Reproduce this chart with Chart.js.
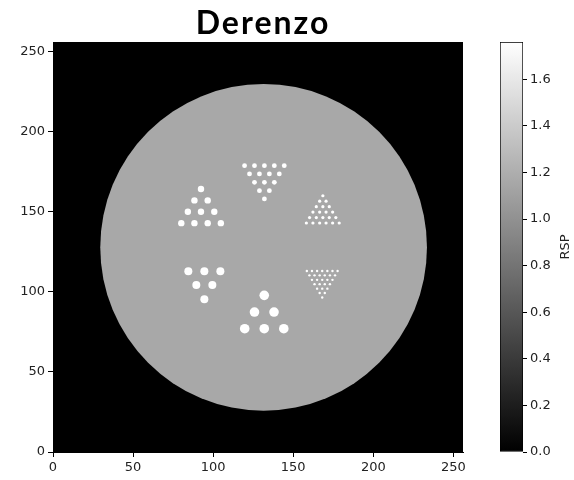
<!DOCTYPE html>
<html>
<head>
<meta charset="utf-8">
<script src="https://cdn.jsdelivr.net/npm/chart.js@4.4.1/dist/chart.umd.min.js"></script>
<style>
  body { margin: 0; background: #fff; }
  #wrap { position: relative; width: 574px; height: 480px; }
  canvas { position: absolute; top: 0; }
</style>
</head>
<body>
<div id="wrap">
  <canvas id="main" width="520" height="480" style="left:0"></canvas>
  <canvas id="cbar" width="94" height="480" style="left:480px"></canvas>
</div>
<script>
// image extent and ticks
const titleText = 'Derenzo';
const xTicks = [0, 50, 100, 150, 200, 250];
const yTicks = [0, 50, 100, 150, 200, 250];
const cbTicks = [0.0, 0.2, 0.4, 0.6, 0.8, 1.0, 1.2, 1.4, 1.6];
const vmax = 1.76;

// phantom body (RSP values)
const diskCenter = [131.5, 127.8];
const diskRadius = 102;
const diskValue = 1.16;
const rodValue = 1.76;

// rod groups: diameter + centres (pixel units of the 256x256 image)
const rodDiam = [4.0, 3.0, 2.0, 1.5, 5.0, 6.0];
const rodX = [
  [92.4, 88.3, 96.6, 84.2, 92.4, 100.7, 80.1, 88.3, 96.6, 104.8],
  [119.6, 125.8, 132.0, 138.2, 144.4, 122.7, 128.9, 135.1, 141.3, 125.8, 132.0, 138.2, 128.9, 135.1, 132.0],
  [168.5, 166.5, 170.5, 164.4, 168.5, 172.5, 162.3, 166.5, 170.5, 174.6,
   160.2, 164.4, 168.5, 172.5, 176.6, 158.2, 162.3, 166.5, 170.5, 174.6, 178.7],
  [158.5, 161.7, 164.9, 168.1, 171.3, 174.5, 177.7,
   160.1, 163.3, 166.5, 169.7, 172.9, 176.1,
   161.7, 164.9, 168.1, 171.3, 174.5,
   163.3, 166.5, 169.7, 172.9,
   164.9, 168.1, 171.3,
   166.5, 169.7,
   168.1],
  [84.5, 94.5, 104.5, 89.5, 99.5, 94.5],
  [131.9, 125.8, 138.0, 119.7, 131.9, 144.1]
];
const rodY = [
  [164.2, 157.1, 157.1, 150.0, 150.0, 150.0, 142.9, 142.9, 142.9, 142.9],
  [178.8, 178.8, 178.8, 178.8, 178.8, 173.6, 173.6, 173.6, 173.6, 168.4, 168.4, 168.4, 163.2, 163.2, 158.0],
  [160.0, 156.6, 156.6, 153.2, 153.2, 153.2, 149.8, 149.8, 149.8, 149.8,
   146.4, 146.4, 146.4, 146.4, 146.4, 143.0, 143.0, 143.0, 143.0, 143.0, 143.0],
  [113.0, 113.0, 113.0, 113.0, 113.0, 113.0, 113.0,
   110.3, 110.3, 110.3, 110.3, 110.3, 110.3,
   107.5, 107.5, 107.5, 107.5, 107.5,
   104.8, 104.8, 104.8, 104.8,
   102.0, 102.0, 102.0,
   99.3, 99.3,
   96.5],
  [112.9, 112.9, 112.9, 104.2, 104.2, 95.4],
  [97.8, 87.4, 87.4, 77.0, 77.0, 77.0]
];

function gray(v) {
  const g = Math.round(Math.max(0, Math.min(1, v / vmax)) * 255);
  return 'rgb(' + g + ',' + g + ',' + g + ')';
}

// radius in image units -> canvas pixels via the x scale
function unitPx(chart, r) {
  const s = chart.scales.x;
  return Math.abs(s.getPixelForValue(r) - s.getPixelForValue(0));
}

const tickFont = { family: 'DejaVu Sans', size: 13 };
const tickColor = '#222';

const datasets = rodX.map(function(xs, i) {
  return {
    label: 'rods ' + rodDiam[i],
    data: xs.map(function(x, j) { return { x: x, y: rodY[i][j] }; }),
    backgroundColor: gray(rodValue),
    borderWidth: 0,
    pointStyle: 'circle',
    pointRadius: function(ctx) { return unitPx(ctx.chart, rodDiam[i] / 2); },
    order: 0
  };
});
datasets.push({
  label: 'body',
  data: [{ x: diskCenter[0], y: diskCenter[1] }],
  backgroundColor: gray(diskValue),
  borderWidth: 0,
  pointRadius: function(ctx) { return unitPx(ctx.chart, diskRadius); },
  order: 1
});

const blackBg = {
  id: 'blackBg',
  beforeDatasetsDraw(chart) {
    const a = chart.chartArea;
    chart.ctx.save();
    chart.ctx.fillStyle = '#000';
    chart.ctx.fillRect(a.left, a.top, a.right - a.left, a.bottom - a.top);
    chart.ctx.restore();
  }
};

const titleDraw = {
  id: 'titleDraw',
  afterDraw(chart) {
    const c = chart.ctx;
    c.save();
    c.font = 'bold 32px Lato';
    c.letterSpacing = '2px';
    c.fillStyle = '#000';
    c.textAlign = 'center';
    c.textBaseline = 'alphabetic';
    c.fillText(titleText, 263, 34);
    c.restore();
  }
};

function axisOpts(ticks, fitKey, fitVal) {
  return {
    type: 'linear',
    min: 0,
    max: 256,
    afterBuildTicks: function(s) { s.ticks = ticks.map(function(v) { return { value: v }; }); },
    afterFit: function(s) { s[fitKey] = fitVal; },
    ticks: { font: tickFont, color: tickColor, padding: 3, maxRotation: 0 },
    grid: { drawOnChartArea: false, drawTicks: true, tickLength: 5, tickColor: '#000' },
    border: { display: true, color: '#000', width: 1 }
  };
}

new Chart(document.getElementById('main'), {
  type: 'scatter',
  data: { datasets: datasets },
  options: {
    responsive: false,
    animation: false,
    events: [],
    layout: { padding: { top: 42, right: 57, left: 0, bottom: 0 } },
    plugins: { legend: { display: false }, tooltip: { enabled: false }, title: { display: false } },
    scales: {
      x: axisOpts(xTicks, 'height', 28),
      y: axisOpts(yTicks, 'width', 53)
    }
  },
  plugins: [blackBg, titleDraw]
});

const rspLabel = {
  id: 'rspLabel',
  afterDraw(chart) {
    const c = chart.ctx;
    c.save();
    c.translate(86, 247);
    c.rotate(-Math.PI / 2);
    c.font = '13px DejaVu Sans';
    c.fillStyle = tickColor;
    c.textAlign = 'center';
    c.textBaseline = 'middle';
    c.fillText('RSP', 0, 0);
    c.restore();
  }
};

new Chart(document.getElementById('cbar'), {
  type: 'bar',
  data: {
    labels: [''],
    datasets: [{
      data: [vmax],
      backgroundColor: function(ctx) {
        const a = ctx.chart.chartArea;
        if (!a) return '#888';
        const g = ctx.chart.ctx.createLinearGradient(0, a.bottom, 0, a.top);
        g.addColorStop(0, gray(0));
        g.addColorStop(1, gray(vmax));
        return g;
      },
      borderColor: '#000',
      borderWidth: 1,
      borderSkipped: false,
      barPercentage: 1,
      categoryPercentage: 1
    }]
  },
  options: {
    responsive: false,
    animation: false,
    events: [],
    layout: { padding: { top: 42, right: 0, left: 20, bottom: 28 } },
    plugins: { legend: { display: false }, tooltip: { enabled: false } },
    scales: {
      x: { display: false },
      y: {
        position: 'right',
        min: 0,
        max: vmax,
        afterBuildTicks: function(s) { s.ticks = cbTicks.map(function(v) { return { value: v }; }); },
        afterFit: function(s) { s.width = 51; },
        ticks: { font: tickFont, color: tickColor, padding: 3, callback: function(v) { return v.toFixed(1); } },
        grid: { drawOnChartArea: false, drawTicks: true, tickLength: 4, tickColor: '#000' },
        border: { display: false }
      }
    }
  },
  plugins: [rspLabel]
});
</script>
</body>
</html>
